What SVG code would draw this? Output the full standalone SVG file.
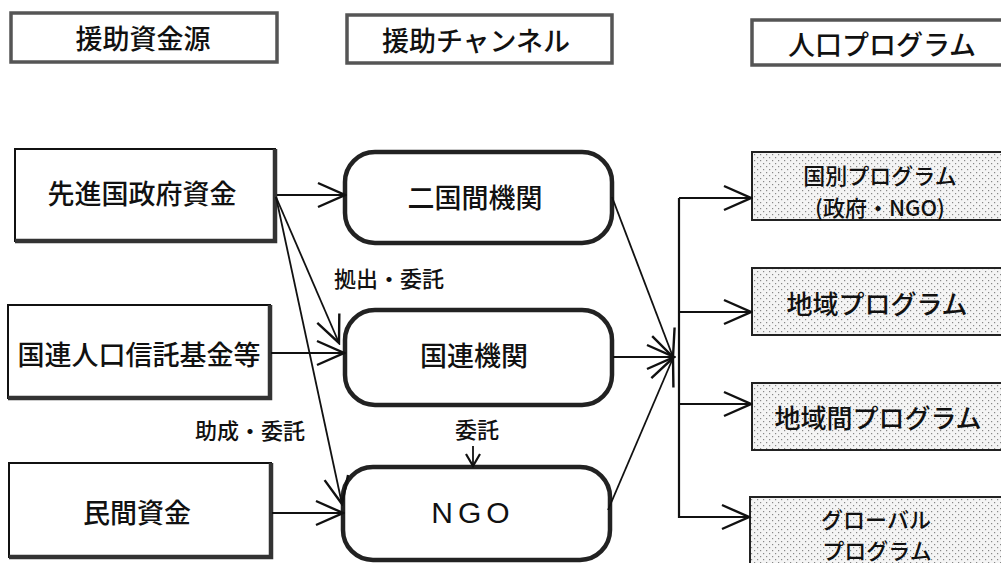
<svg xmlns="http://www.w3.org/2000/svg" width="1001" height="563" viewBox="0 0 1001 563">
<style>
text{font-family:"Noto Sans CJK JP","Noto Sans CJK SC",sans-serif;fill:#111;text-anchor:middle;dominant-baseline:central;font-weight:500}
.hdr{fill:#fff;stroke:#555;stroke-width:3.5}
.src{fill:#fff;stroke:#111;stroke-width:2}
.sh{fill:none;stroke:#333;stroke-width:4.5}
.ch{fill:#fff;stroke:#222;stroke-width:4.5}
.pg{fill:url(#dots);stroke:#222;stroke-width:2}
.t27{font-size:27px}
.t26{font-size:26px}
.t22{font-size:22px}
.lbl{font-size:22px}
.c{fill:none;stroke:#111;stroke-width:1.8}
</style>
<defs>
<pattern id="dots" width="6" height="6" patternUnits="userSpaceOnUse">
<rect width="6" height="6" fill="#f4f4f4"/>
<rect x="1" y="1" width="1.2" height="1.2" fill="#888"/>
<rect x="4" y="4" width="1.2" height="1.2" fill="#888"/>
</pattern>
<marker id="ah" markerUnits="userSpaceOnUse" viewBox="-30 -15 32 30" refX="0" refY="0" markerWidth="32" markerHeight="30" orient="auto">
<path d="M-27,-12 L0,0 L-27,12" fill="none" stroke="#111" stroke-width="2.4"/>
</marker>
<marker id="ahs" markerUnits="userSpaceOnUse" viewBox="-14 -9 16 18" refX="0" refY="0" markerWidth="16" markerHeight="18" orient="auto">
<path d="M-12,-7 L0,0 L-12,7" fill="none" stroke="#111" stroke-width="2.2"/>
</marker>
</defs>

<g id="header-sources">
<rect class="hdr" x="11" y="13" width="266" height="49"/>
<text class="t27" x="143" y="37">援助資金源</text>
</g>
<g id="header-channels">
<rect class="hdr" x="347" y="15" width="265" height="48"/>
<text class="t27" x="476" y="39">援助チャンネル</text>
</g>
<g id="header-programs">
<rect class="hdr" x="752" y="20" width="260" height="45"/>
<text class="t27" x="882" y="43">人口プログラム</text>
</g>

<g id="src-gov">
<rect class="src" x="15" y="149" width="260" height="92"/>
<polyline class="sh" points="275,149 275,241 15,241"/>
<text class="t27" x="142" y="192">先進国政府資金</text>
</g>
<g id="src-unfpa">
<rect class="src" x="8" y="305" width="262" height="93"/>
<polyline class="sh" points="270,305 270,398 8,398"/>
<text class="t27" x="139" y="353">国連人口信託基金等</text>
</g>
<g id="src-private">
<rect class="src" x="9" y="463" width="262" height="94"/>
<polyline class="sh" points="271,463 271,557 9,557"/>
<text class="t27" x="137" y="511">民間資金</text>
</g>

<g id="ch-bilateral">
<rect class="ch" x="345" y="152" width="267" height="91" rx="30"/>
<text class="t27" x="475" y="196">二国間機関</text>
</g>
<g id="ch-un">
<rect class="ch" x="345" y="310" width="267" height="95" rx="30"/>
<text class="t27" x="474" y="354">国連機関</text>
</g>
<g id="ch-ngo">
<rect class="ch" x="343" y="467" width="267" height="93" rx="30"/>
<text x="473" y="512" style="font-family:'Liberation Sans',sans-serif;font-size:30px;letter-spacing:5px;font-weight:normal">NGO</text>
</g>

<g id="pg-country">
<rect class="pg" x="752" y="152" width="260" height="68"/>
<text class="t22" x="880" y="174">国別プログラム</text>
<text class="t22" x="880" y="206">(政府・NGO)</text>
</g>
<g id="pg-regional">
<rect class="pg" x="752" y="268" width="260" height="67"/>
<text class="t26" x="877" y="302">地域プログラム</text>
</g>
<g id="pg-interregional">
<rect class="pg" x="752" y="383" width="260" height="67"/>
<text class="t26" x="878" y="416">地域間プログラム</text>
</g>
<g id="pg-global">
<rect class="pg" x="750" y="497" width="262" height="80"/>
<text class="t22" x="876" y="518">グローバル</text>
<text class="t22" x="877" y="549">プログラム</text>
</g>

<g id="connectors">
<line class="c" x1="277" y1="195" x2="345" y2="195" marker-end="url(#ah)"/>
<line class="c" x1="276" y1="197" x2="339" y2="343" marker-end="url(#ah)"/>
<line class="c" x1="276" y1="197" x2="342" y2="504" marker-end="url(#ah)"/>
<line class="c" x1="271" y1="353" x2="344" y2="353" marker-end="url(#ah)"/>
<line class="c" x1="272" y1="513" x2="343" y2="513" marker-end="url(#ah)"/>
<line class="c" x1="473" y1="446" x2="473" y2="466" marker-end="url(#ahs)"/>
<line class="c" x1="612" y1="197" x2="673" y2="357" marker-end="url(#ah)"/>
<line class="c" x1="613" y1="357" x2="674" y2="357" marker-end="url(#ah)"/>
<line class="c" x1="608" y1="510" x2="673" y2="358" marker-end="url(#ah)"/>
<line class="c" x1="679" y1="198" x2="679" y2="518" style="stroke-width:2.2"/>
<line class="c" x1="679" y1="198" x2="751" y2="198" marker-end="url(#ah)"/>
<line class="c" x1="679" y1="312" x2="751" y2="312" marker-end="url(#ah)"/>
<line class="c" x1="679" y1="404" x2="751" y2="404" marker-end="url(#ah)"/>
<line class="c" x1="679" y1="517" x2="749" y2="517" marker-end="url(#ah)"/>
</g>

<g id="labels">
<text class="lbl" x="389" y="277">拠出・委託</text>
<text class="lbl" x="250" y="429">助成・委託</text>
<text class="lbl" x="477" y="428">委託</text>
</g>
</svg>
